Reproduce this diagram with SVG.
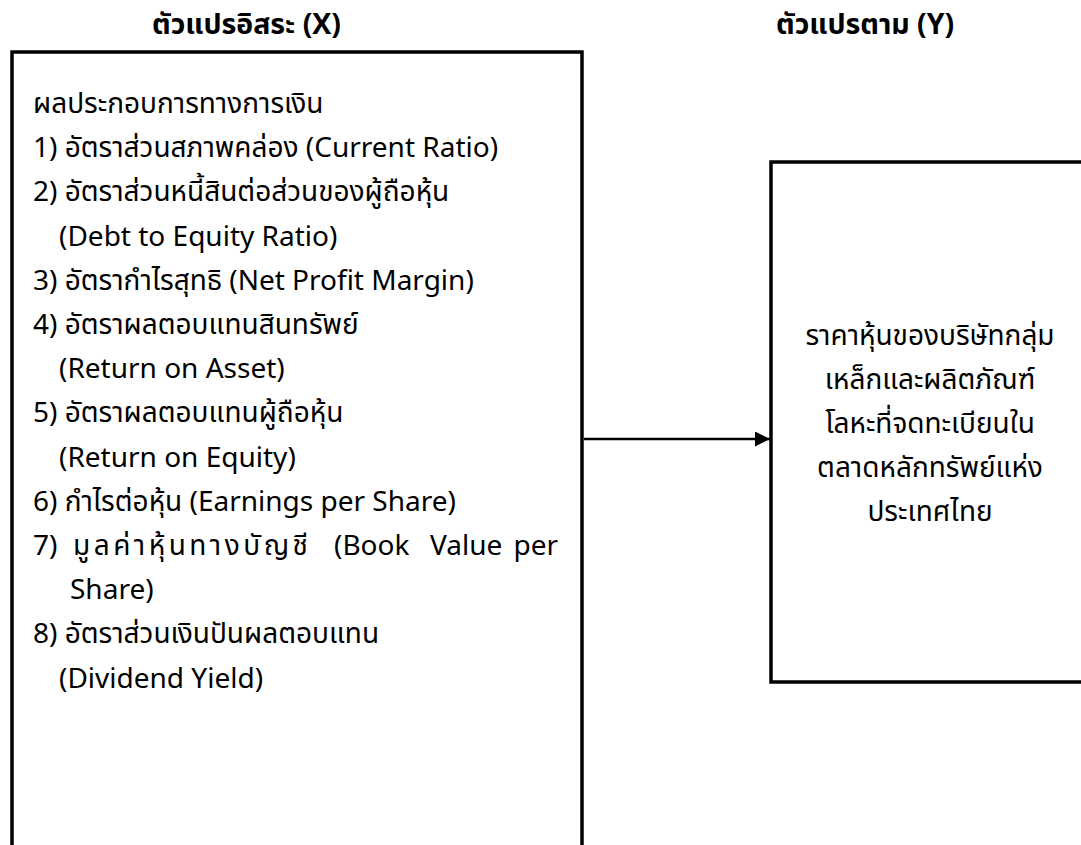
<svg xmlns="http://www.w3.org/2000/svg" width="1081" height="845" viewBox="0 0 1081 845">
<defs>
<style>
.t{font-family:"Noto Sans Thai","Noto Sans","DejaVu Sans",sans-serif;font-size:28px;fill:#000}
.h{font-weight:bold;font-size:28.5px}
.box{fill:#fff;stroke:#000;stroke-width:3.5}
.conn{stroke:#000;stroke-width:2.5;fill:none}
</style>
<marker id="ah" markerWidth="15" markerHeight="15" viewBox="0 0 15 15" refX="15" refY="7.5" orient="auto" markerUnits="userSpaceOnUse">
<path d="M0,0 L15,7.5 L0,15 Z" fill="#000"/>
</marker>
</defs>
<rect width="1081" height="845" fill="#fff"/>
<text class="t h" x="152" y="34">ตัวแปรอิสระ (X)</text>
<text class="t h" x="776" y="34">ตัวแปรตาม (Y)</text>
<g id="independent">
<rect class="box" x="12" y="52" width="570" height="820"/>
<text class="t" x="33" y="113">ผลประกอบการทางการเงิน</text>
<text class="t" x="33" y="157">1) อัตราส่วนสภาพคล่อง (Current Ratio)</text>
<text class="t" x="33" y="201">2) อัตราส่วนหนี้สินต่อส่วนของผู้ถือหุ้น</text>
<text class="t" x="59" y="246">(Debt to Equity Ratio)</text>
<text class="t" x="33" y="290">3) อัตรากำไรสุทธิ (Net Profit Margin)</text>
<text class="t" x="33" y="334">4) อัตราผลตอบแทนสินทรัพย์</text>
<text class="t" x="59" y="378">(Return on Asset)</text>
<text class="t" x="33" y="422">5) อัตราผลตอบแทนผู้ถือหุ้น</text>
<text class="t" x="59" y="467">(Return on Equity)</text>
<text class="t" x="33" y="511">6) กำไรต่อหุ้น (Earnings per Share)</text>
<text class="t" x="33" y="555">7)</text>
<text class="t" x="73" y="555" textLength="235" lengthAdjust="spacing">มูลค่าหุ้นทางบัญชี</text>
<text class="t" x="334" y="555">(Book</text>
<text class="t" x="430" y="555">Value</text>
<text class="t" x="558" y="555" text-anchor="end">per</text>
<text class="t" x="70" y="599">Share)</text>
<text class="t" x="33" y="643">8) อัตราส่วนเงินปันผลตอบแทน</text>
<text class="t" x="59" y="688">(Dividend Yield)</text>
</g>
<g id="dependent">
<rect class="box" x="771" y="162" width="330" height="520"/>
<text class="t" x="930" y="345" text-anchor="middle">ราคาหุ้นของบริษัทกลุ่ม</text>
<text class="t" x="930" y="389" text-anchor="middle">เหล็กและผลิตภัณฑ์</text>
<text class="t" x="930" y="433" text-anchor="middle">โลหะที่จดทะเบียนใน</text>
<text class="t" x="930" y="477" text-anchor="middle">ตลาดหลักทรัพย์แห่ง</text>
<text class="t" x="930" y="521" text-anchor="middle">ประเทศไทย</text>
</g>
<g id="connectors">
<line class="conn" x1="584" y1="439" x2="770" y2="439" marker-end="url(#ah)"/>
</g>
</svg>
